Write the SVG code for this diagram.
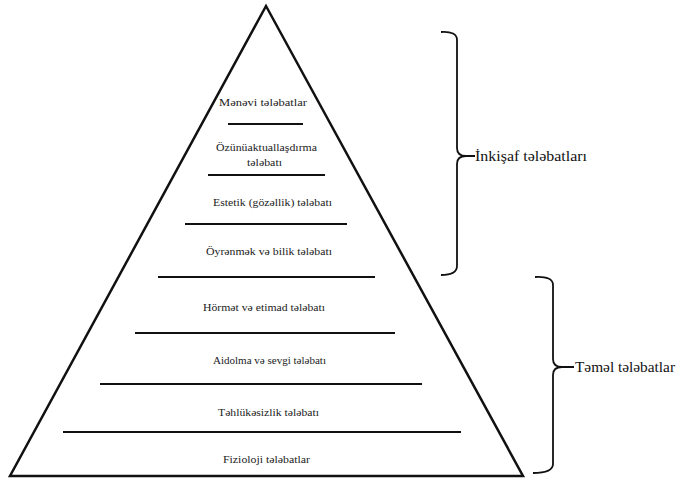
<svg xmlns="http://www.w3.org/2000/svg" width="676" height="479" viewBox="0 0 676 479">
<style>
.t{font-family:"Liberation Serif","Times New Roman",serif;font-size:11px;fill:#222;}
.b{font-family:"Liberation Serif","Times New Roman",serif;font-size:14.5px;fill:#111;}
.ln{stroke:#111;stroke-width:2;fill:none;}
.br{stroke:#111;stroke-width:1.8;fill:none;}
</style>
<rect width="676" height="479" fill="#fff"/>
<g id="pyramid">
<polygon points="266,6 10,476 523,476" fill="none" stroke="#111" stroke-width="2.5" stroke-linejoin="miter"/>
</g>
<g id="dividers">
<line class="ln" x1="228" y1="124" x2="303" y2="124"/>
<line class="ln" x1="208" y1="175" x2="325" y2="175"/>
<line class="ln" x1="185" y1="224" x2="347" y2="224"/>
<line class="ln" x1="158" y1="277" x2="375" y2="277"/>
<line class="ln" x1="135" y1="333" x2="395" y2="333"/>
<line class="ln" x1="100" y1="384" x2="422" y2="384"/>
<line class="ln" x1="63" y1="432" x2="461" y2="432"/>
</g>
<g id="level-menevi"><text class="t" x="219" y="106" textLength="88" lengthAdjust="spacingAndGlyphs">Mənəvi tələbatlar</text></g>
<g id="level-ozunu"><text class="t" x="216" y="151" textLength="101" lengthAdjust="spacingAndGlyphs">Özünüaktuallaşdırma</text><text class="t" x="247" y="166" textLength="35" lengthAdjust="spacingAndGlyphs">tələbatı</text></g>
<g id="level-estetik"><text class="t" x="213" y="206" textLength="119" lengthAdjust="spacingAndGlyphs">Estetik (gözəllik) tələbatı</text></g>
<g id="level-oyrenmek"><text class="t" x="206" y="255" textLength="126" lengthAdjust="spacingAndGlyphs">Öyrənmək və bilik tələbatı</text></g>
<g id="level-hormet"><text class="t" x="203" y="311" textLength="122" lengthAdjust="spacingAndGlyphs">Hörmət və etimad tələbatı</text></g>
<g id="level-aidolma"><text class="t" x="213" y="364" textLength="113" lengthAdjust="spacingAndGlyphs">Aidolma və sevgi tələbatı</text></g>
<g id="level-tehlukesizlik"><text class="t" x="218" y="416" textLength="101" lengthAdjust="spacingAndGlyphs">Təhlükəsizlik tələbatı</text></g>
<g id="level-fizioloji"><text class="t" x="223" y="463" textLength="87" lengthAdjust="spacingAndGlyphs">Fizioloji tələbatlar</text></g>
<g id="connectors">
<path class="br" d="M441,32 Q457,31 457,40 L457,148 Q457,156 466,156 M466,156 Q457,156 457,164 L457,266 Q457,275 441,275 M466,156 L475,156"/>
<path class="br" d="M535,277 Q553,276 553,285 L553,359 Q553,367 562,367 M562,367 Q553,367 553,375 L553,464 Q553,473 533,473 M562,367 L574,367"/>
</g>
<g id="group-inkisaf"><text class="b" x="475" y="161" textLength="112" lengthAdjust="spacingAndGlyphs">İnkişaf tələbatları</text></g>
<g id="group-temel"><text class="b" x="575" y="372" textLength="100" lengthAdjust="spacingAndGlyphs">Təməl tələbatlar</text></g>
</svg>
